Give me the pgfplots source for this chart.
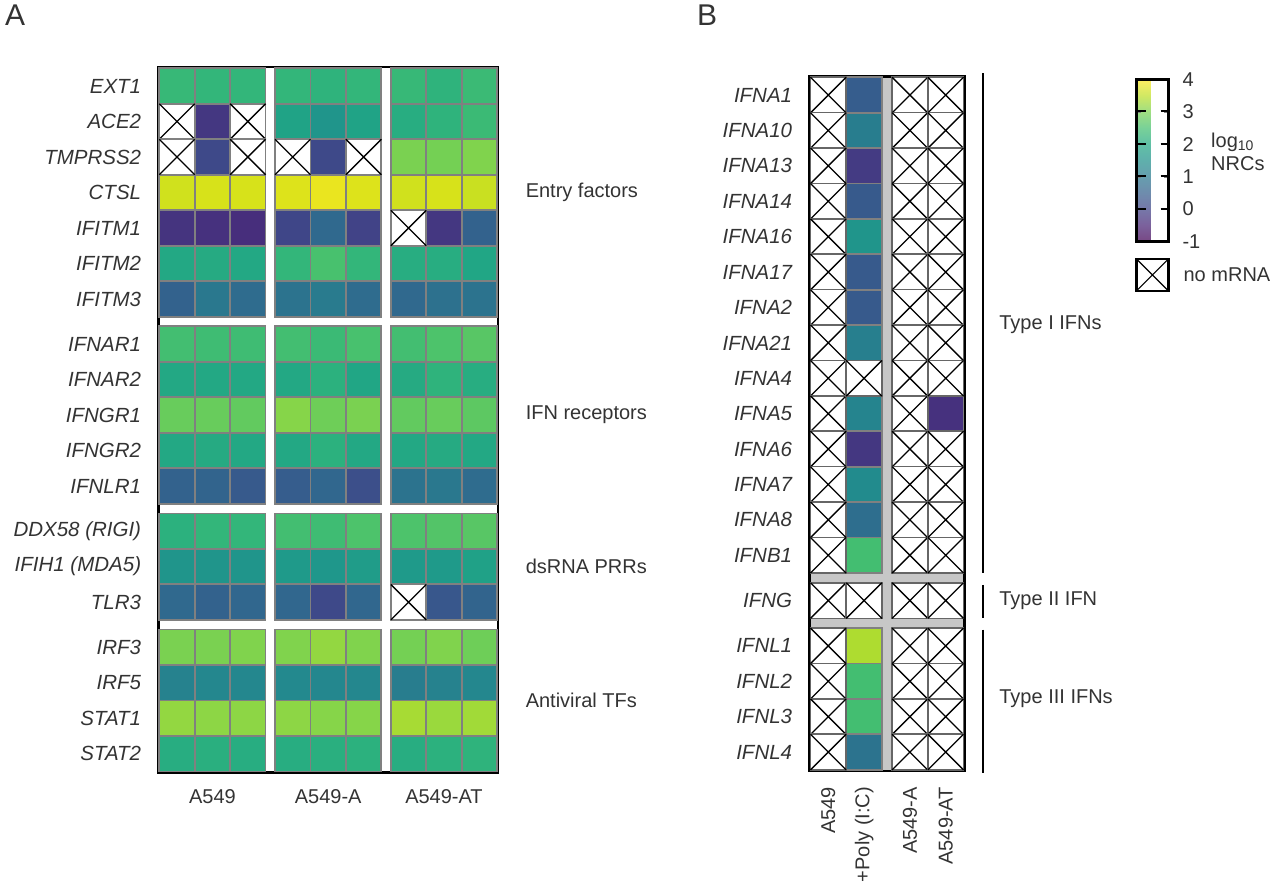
\documentclass[border=0pt]{standalone}
\usepackage{fontspec}
\setmainfont{Liberation Sans}
\usepackage{pgfplots}
\pgfplotsset{compat=1.18}

\definecolor{txt}{HTML}{333333}
\tikzset{lbl/.style={font=\fontsize{20}{24}\selectfont, text=txt}}

% faded viridis for the colour bar
\pgfplotsset{
  colormap={viridisfade}{rgb255=(120,72,132) rgb255=(123,97,156) rgb255=(118,120,169)
    rgb255=(110,140,173) rgb255=(102,158,174) rgb255=(95,176,172) rgb255=(96,192,166)
    rgb255=(120,209,152) rgb255=(159,222,130) rgb255=(208,232,99) rgb255=(254,238,98)},
  gapA/.style={
    x filter/.expression={x+0.27*floor(x/3)},
    y filter/.expression={-(y+0.27*((y>6.5)+(y>11.5)+(y>14.5)))}},
  gapB/.style={
    x filter/.expression={x+0.28*(x>1.5)},
    y filter/.expression={-(y+0.28*((y>13.5)+(y>14.5)))}},
}

% square with an X: no mRNA
\pgfdeclareplotmark{nomrna}{%
  \pgfpathrectangle{\pgfqpoint{-\pgfplotmarksize}{-\pgfplotmarksize}}{\pgfqpoint{2\pgfplotmarksize}{2\pgfplotmarksize}}%
  \pgfusepathqfillstroke
  \begin{pgfscope}%
  \pgfsetstrokecolor{black}%
  \pgfsetlinewidth{1.3pt}%
  \pgfpathmoveto{\pgfqpoint{-\pgfplotmarksize}{-\pgfplotmarksize}}%
  \pgfpathlineto{\pgfqpoint{\pgfplotmarksize}{\pgfplotmarksize}}%
  \pgfpathmoveto{\pgfqpoint{-\pgfplotmarksize}{\pgfplotmarksize}}%
  \pgfpathlineto{\pgfqpoint{\pgfplotmarksize}{-\pgfplotmarksize}}%
  \pgfusepathqstroke
  \end{pgfscope}%
}

\begin{document}
\begin{tikzpicture}[x=1pt,y=1pt]
\useasboundingbox (0,0) rectangle (1280,889);
\node[anchor=north west, inner sep=0pt, font=\fontsize{30}{30}\selectfont, text=txt] at (5,884) {A};
\node[anchor=north west, inner sep=0pt, font=\fontsize{30}{30}\selectfont, text=txt] at (697,884) {B};

% ---------------- panel A ----------------
\begin{axis}[
  at={(158.3pt,821.8pt)}, anchor=north west,
  x=35.4pt, y=35.5pt,
  xmin=-0.53, xmax=9.07, ymin=-19.34, ymax=0.53,
  axis line style={line width=2.5pt, black},
  clip=false,
  xtick style={draw=none}, ytick style={draw=none},
  xtick={1,4.27,7.54}, xticklabels={A549,A549-A,A549-AT},
  ytick={0,-1,-2,-3,-4,-5,-6,-7.27,-8.27,-9.27,-10.27,-11.27,-12.54,-13.54,-14.54,-15.81,-16.81,-17.81,-18.81},
  yticklabels={EXT1,ACE2,TMPRSS2,CTSL,IFITM1,IFITM2,IFITM3,IFNAR1,IFNAR2,IFNGR1,IFNGR2,IFNLR1,DDX58 (RIGI),IFIH1 (MDA5),TLR3,IRF3,IRF5,STAT1,STAT2},
  tick label style={lbl, inner sep=0pt},
  yticklabel style={font=\fontsize{20.5}{24}\selectfont\itshape, xshift=-17pt},
  xticklabel style={yshift=-17pt},
  colormap name=viridis, point meta min=-1, point meta max=4,
]
\addplot[gapA, scatter, only marks, mark=square*, mark size=17.7pt, point meta=explicit,
  scatter/use mapped color={draw=gray, fill=mapped color}, mark options={line width=1.8pt}]
coordinates {
 (0,0)[2.35] (1,0)[2.3] (2,0)[2.3] (3,0)[2.3] (4,0)[2.25] (5,0)[2.3] (6,0)[2.35] (7,0)[2.25] (8,0)[2.4]
 (1,1)[-0.2] (3,1)[1.9] (4,1)[1.6] (5,1)[1.9] (6,1)[2.1] (7,1)[2.25] (8,1)[2.4]
 (1,2)[0.1] (4,2)[0.1] (6,2)[3.0] (7,2)[2.95] (8,2)[3.05]
 (0,3)[3.65] (1,3)[3.7] (2,3)[3.7] (3,3)[3.75] (4,3)[3.85] (5,3)[3.75] (6,3)[3.65] (7,3)[3.7] (8,3)[3.6]
 (0,4)[-0.25] (1,4)[-0.3] (2,4)[-0.35] (3,4)[0.05] (4,4)[0.7] (5,4)[0.0] (7,4)[-0.2] (8,4)[0.55]
 (0,5)[2.0] (1,5)[2.05] (2,5)[2.0] (3,5)[2.3] (4,5)[2.55] (5,5)[2.3] (6,5)[2.1] (7,5)[2.1] (8,5)[1.95]
 (0,6)[0.55] (1,6)[1.0] (2,6)[0.75] (3,6)[0.9] (4,6)[1.05] (5,6)[0.75] (6,6)[0.7] (7,6)[0.85] (8,6)[0.9]
 (0,7)[2.5] (1,7)[2.45] (2,7)[2.45] (3,7)[2.5] (4,7)[2.4] (5,7)[2.55] (6,7)[2.5] (7,7)[2.6] (8,7)[2.7]
 (0,8)[2.0] (1,8)[2.0] (2,8)[2.0] (3,8)[2.0] (4,8)[2.2] (5,8)[1.95] (6,8)[2.05] (7,8)[2.25] (8,8)[2.1]
 (0,9)[2.85] (1,9)[2.85] (2,9)[2.8] (3,9)[3.1] (4,9)[2.9] (5,9)[3.0] (6,9)[2.8] (7,9)[2.85] (8,9)[2.75]
 (0,10)[2.0] (1,10)[2.05] (2,10)[2.0] (3,10)[2.0] (4,10)[2.2] (5,10)[2.0] (6,10)[2.0] (7,10)[2.05] (8,10)[2.0]
 (0,11)[0.55] (1,11)[0.6] (2,11)[0.4] (3,11)[0.45] (4,11)[0.65] (5,11)[0.2] (6,11)[0.9] (7,11)[1.0] (8,11)[0.75]
 (0,12)[2.2] (1,12)[2.3] (2,12)[2.3] (3,12)[2.5] (4,12)[2.45] (5,12)[2.6] (6,12)[2.6] (7,12)[2.65] (8,12)[2.7]
 (0,13)[1.6] (1,13)[1.6] (2,13)[1.6] (3,13)[1.7] (4,13)[1.65] (5,13)[1.75] (6,13)[1.7] (7,13)[1.7] (8,13)[1.85]
 (0,14)[0.7] (1,14)[0.55] (2,14)[0.65] (3,14)[0.65] (4,14)[0.1] (5,14)[0.65] (7,14)[0.35] (8,14)[0.6]
 (0,15)[3.0] (1,15)[3.0] (2,15)[3.05] (3,15)[3.05] (4,15)[3.2] (5,15)[3.05] (6,15)[2.95] (7,15)[3.05] (8,15)[2.9]
 (0,16)[1.2] (1,16)[1.3] (2,16)[1.3] (3,16)[1.35] (4,16)[1.3] (5,16)[1.3] (6,16)[1.1] (7,16)[1.2] (8,16)[1.3]
 (0,17)[3.2] (1,17)[3.15] (2,17)[3.15] (3,17)[3.15] (4,17)[3.1] (5,17)[3.1] (6,17)[3.35] (7,17)[3.25] (8,17)[3.3]
 (0,18)[2.1] (1,18)[2.15] (2,18)[2.1] (3,18)[2.1] (4,18)[2.15] (5,18)[2.2] (6,18)[2.1] (7,18)[2.2] (8,18)[2.25]
};
% no mRNA
\addplot[gapA, only marks, mark=nomrna, mark size=17.7pt,
  mark options={draw=gray, fill=white, line width=1.8pt}]
coordinates {(0,1) (2,1) (0,2) (2,2) (3,2) (5,2) (6,4) (6,14)};

\node[lbl, anchor=west] at (axis cs:9.75,-3) {Entry factors};
\node[lbl, anchor=west] at (axis cs:9.75,-9.27) {IFN receptors};
\node[lbl, anchor=west] at (axis cs:9.75,-13.54) {dsRNA PRRs};
\node[lbl, anchor=west] at (axis cs:9.75,-17.31) {Antiviral TFs};
\end{axis}

% ---------------- panel B ----------------
\begin{axis}[
  at={(809.3pt,812.7pt)}, anchor=north west,
  x=35.8pt, y=35.4pt,
  xmin=-0.53, xmax=3.81, ymin=-19.09, ymax=0.53,
  axis background/.style={fill=black!22},
  axis line style={line width=2.5pt, black},
  clip=false,
  xtick style={draw=none}, ytick style={draw=none},
  xtick={0,1,2.28,3.28}, xticklabels={A549,+Poly (I:C),A549-A,A549-AT},
  ytick={0,-1,-2,-3,-4,-5,-6,-7,-8,-9,-10,-11,-12,-13,-14.28,-15.56,-16.56,-17.56,-18.56},
  yticklabels={IFNA1,IFNA10,IFNA13,IFNA14,IFNA16,IFNA17,IFNA2,IFNA21,IFNA4,IFNA5,IFNA6,IFNA7,IFNA8,IFNB1,IFNG,IFNL1,IFNL2,IFNL3,IFNL4},
  tick label style={lbl, inner sep=0pt},
  yticklabel style={font=\fontsize{20.5}{24}\selectfont\itshape, xshift=-17pt},
  xticklabel style={yshift=-16pt, rotate=90, anchor=east},
  colormap name=viridis, point meta min=-1, point meta max=4,
  colorbar,
  colorbar style={
    at={(parent axis.north east)}, anchor=north west,
    xshift=163.5pt, yshift=-3.2pt,
    width=31.6pt, height=162pt,
    colormap name=viridisfade,
    axis line style={line width=2.5pt, black},
    ytick={-1,0,1,2,3,4}, yticklabels={-1,0,1,2,3,4},
    yticklabel pos=right,
    yticklabel style={font=\fontsize{20}{24}\selectfont, text=txt, inner sep=0pt, anchor=west, xshift=14pt},
  },
  legend style={at={(2.096,0.714)}, anchor=west, draw=none, fill=none, inner sep=0pt,
    nodes={inner sep=0pt, font=\fontsize{20}{24}\selectfont, text=txt}},
]
\addplot[gapB, forget plot, scatter, only marks, mark=square*, mark size=17.8pt, point meta=explicit,
  scatter/use mapped color={draw=gray, fill=mapped color}, mark options={line width=1.8pt}]
coordinates {
 (1,0)[0.45] (1,1)[1.1] (1,2)[-0.15] (1,3)[0.4] (1,4)[1.6] (1,5)[0.4] (1,6)[0.4]
 (1,7)[1.15] (1,9)[1.25] (1,10)[-0.2] (1,11)[1.4] (1,12)[0.8] (1,13)[2.5]
 (1,15)[3.4] (1,16)[2.5] (1,17)[2.5] (1,18)[0.9]
 (3,9)[-0.3]
};
\addplot[gapB, only marks, mark=nomrna, mark size=17.8pt,
  mark options={draw=black!60, fill=white, line width=1.6pt},
  legend image code/.code={
    \draw[black, line width=2.5pt, fill=white] (0pt,-16pt) rectangle (32pt,16pt);
    \draw[black, line width=1.2pt] (0pt,-16pt) -- (32pt,16pt) (0pt,16pt) -- (32pt,-16pt);
    \path (47pt,0pt);
  }]
coordinates {
 (0,0) (0,1) (0,2) (0,3) (0,4) (0,5) (0,6) (0,7) (0,8) (0,9) (0,10) (0,11) (0,12) (0,13) (0,14) (0,15) (0,16) (0,17) (0,18)
 (1,8) (1,14)
 (2,0) (2,1) (2,2) (2,3) (2,4) (2,5) (2,6) (2,7) (2,8) (2,9) (2,10) (2,11) (2,12) (2,13) (2,14) (2,15) (2,16) (2,17) (2,18)
 (3,0) (3,1) (3,2) (3,3) (3,4) (3,5) (3,6) (3,7) (3,8) (3,10) (3,11) (3,12) (3,13) (3,14) (3,15) (3,16) (3,17) (3,18)
};
\addlegendentry{no mRNA}

\draw[line width=2pt, black] (axis cs:4.32,0.62) -- (axis cs:4.32,-13.5);
\draw[line width=2pt, black] (axis cs:4.32,-13.84) -- (axis cs:4.32,-14.76);
\draw[line width=2pt, black] (axis cs:4.32,-15.1) -- (axis cs:4.32,-19.15);
\node[lbl, anchor=west] at (axis cs:4.68,-6.5) {Type I IFNs};
\node[lbl, anchor=west] at (axis cs:4.68,-14.28) {Type II IFN};
\node[lbl, anchor=west] at (axis cs:4.68,-17.06) {Type III IFNs};
\end{axis}

% inner tick dashes of the colour bar at 3, 2, 1, 0 (picture coordinates)
\draw[black, line width=2pt] (1137.5,777.6) -- (1145.5,777.6) (1160.5,777.6) -- (1168.5,777.6);
\draw[black, line width=2pt] (1137.5,745.2) -- (1145.5,745.2) (1160.5,745.2) -- (1168.5,745.2);
\draw[black, line width=2pt] (1137.5,712.8) -- (1145.5,712.8) (1160.5,712.8) -- (1168.5,712.8);
\draw[black, line width=2pt] (1137.5,680.4) -- (1145.5,680.4) (1160.5,680.4) -- (1168.5,680.4);

\node[anchor=west, align=left, font=\fontsize{20}{23}\selectfont, text=txt, inner sep=0pt] at (1211,737) {log\textsubscript{10}\\NRCs};
\end{tikzpicture}
\end{document}
